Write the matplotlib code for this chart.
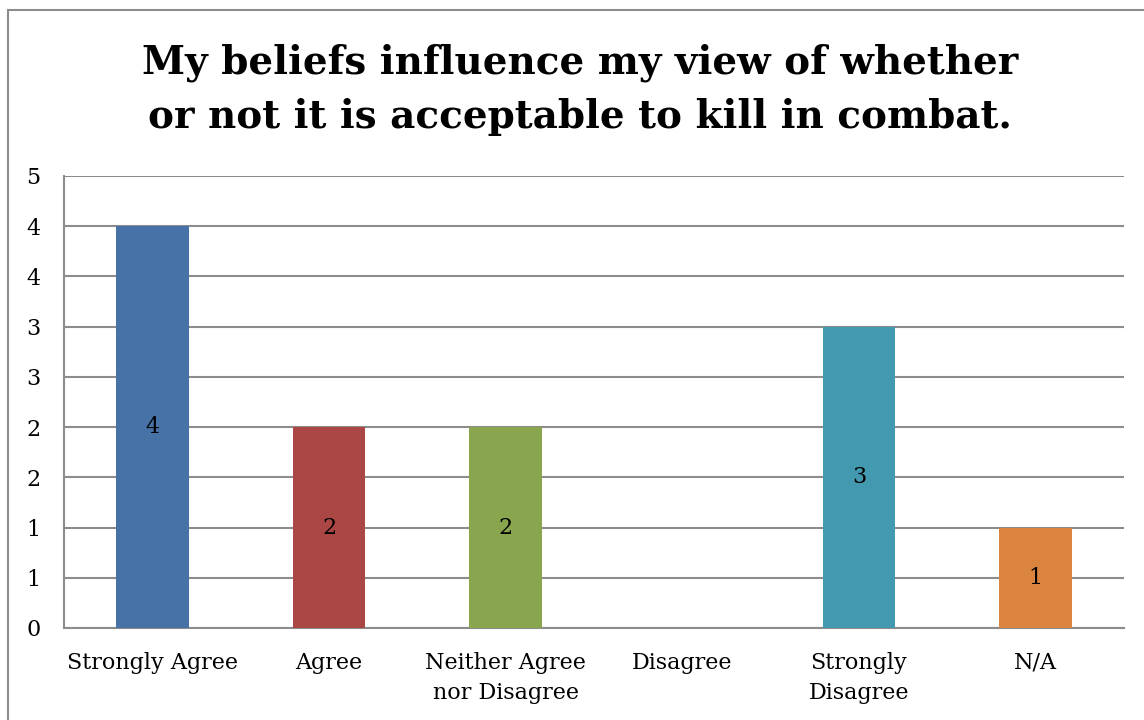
import matplotlib
matplotlib.use("Agg")
import matplotlib.pyplot as plt
from matplotlib.ticker import FixedLocator, FuncFormatter
from matplotlib.patches import Rectangle
import math

categories = ["Strongly Agree", "Agree", "Neither Agree\nnor Disagree",
              "Disagree", "Strongly\nDisagree", "N/A"]
values = [4, 2, 2, 0, 3, 1]
colors = ["#4672A8", "#AA4744", "#89A54E", "#7D5FA0", "#439AB0", "#DB843D"]
y_ticks = [0, 0.5, 1, 1.5, 2, 2.5, 3, 3.5, 4, 4.5]
title = "My beliefs influence my view of whether\nor not it is acceptable to kill in combat."

plt.rcParams["font.family"] = ["DejaVu Serif"]

fig = plt.figure(figsize=(11.44, 7.2), dpi=100)
fig.patch.set_facecolor("white")

# outer chart frame
fig.patches.append(Rectangle((8 / 1144, -0.05), 1.2, 1 - 10 / 720 + 0.05,
                             transform=fig.transFigure, fill=False,
                             edgecolor="#8c8c8c", linewidth=1.5))

ax = fig.add_axes([64 / 1144, 1 - 628 / 720, (1124 - 64) / 1144, (628 - 176) / 720])
x = list(range(len(categories)))
bars = ax.bar(x, values, width=0.41, color=colors, zorder=3)

ax.set_xlim(-0.5, len(categories) - 0.5)
ax.set_ylim(0, 4.5)
ax.yaxis.set_major_locator(FixedLocator(y_ticks))
ax.yaxis.set_major_formatter(FuncFormatter(lambda v, p: str(int(math.floor(v + 0.5)))))
ax.grid(axis="y", color="#8c8c8c", linewidth=1.5, zorder=0)
ax.set_axisbelow(True)

for s in ["top", "right"]:
    ax.spines[s].set_visible(False)
ax.spines["left"].set_color("#8c8c8c")
ax.spines["left"].set_linewidth(1.5)
ax.spines["bottom"].set_color("#8c8c8c")
ax.spines["bottom"].set_linewidth(1.5)

ax.tick_params(axis="both", length=0, labelsize=16)
ax.tick_params(axis="y", pad=22)
ax.tick_params(axis="x", pad=17)
ax.set_xticks(x)
ax.set_xticklabels(categories, linespacing=1.5)
for lbl in ax.get_yticklabels():
    lbl.set_horizontalalignment("center")

for xi, v in zip(x, values):
    if v > 0:
        ax.text(xi, v / 2, str(v), ha="center", va="center", fontsize=16, zorder=4)

fig.text(580 / 1144, 1 - 90 / 720, title, ha="center", va="center",
         fontsize=28, fontweight="bold", linespacing=1.55)

fig.savefig("out.png", dpi=100, facecolor="white")
